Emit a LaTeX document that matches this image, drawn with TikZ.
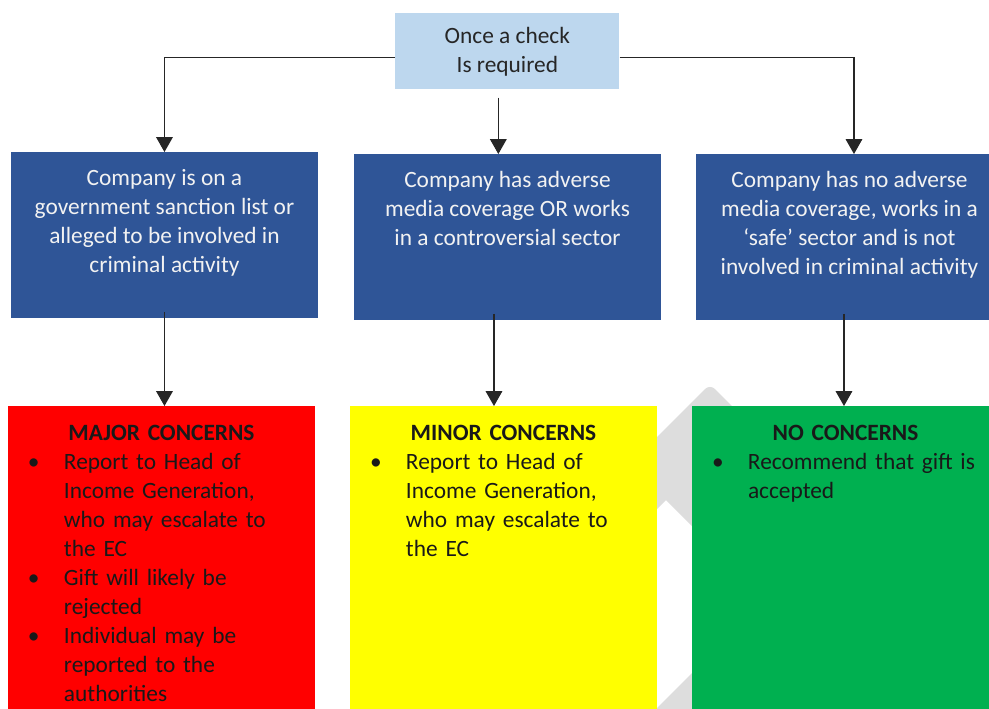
\documentclass[tikz,border=0pt]{standalone}
\usepackage{fontspec}
\setmainfont{Carlito}
\usepackage{xcolor}
\usetikzlibrary{arrows.meta}

\definecolor{checkblue}{HTML}{BDD7EE}
\definecolor{boxblue}{HTML}{2F5597}
\definecolor{majorred}{HTML}{FF0000}
\definecolor{minoryellow}{HTML}{FFFF00}
\definecolor{nogreen}{HTML}{00B050}
\definecolor{markgrey}{HTML}{DDDDDD}

% bullet with hanging indent
\newcommand{\bitem}{\par\hangindent=0.72cm\hangafter=1\noindent\makebox[0.72cm][l]{\textbullet}}

\begin{document}
\begin{tikzpicture}[x=0.02cm, y=-0.02cm,
    every node/.style={font=\fontsize{13.3}{16.5}\selectfont},
    box/.style={rectangle, inner sep=0pt, outer sep=0pt, anchor=north west, minimum width=6.14cm},
    blue/.style={box, fill=boxblue, minimum height=3.32cm},
    outcome/.style={box, fill=#1, minimum height=6.4cm},
    bluetext/.style={anchor=north, inner sep=0pt, align=center, text=black!5},
    outtext/.style={anchor=north, inner sep=0pt, text width=5.34cm, align=left, text=black!90},
    arr/.style={-{Triangle[width=9.5pt,length=8.5pt]}, line width=0.6pt, black!85}]
    \useasboundingbox (0,0) rectangle (989,708);
    \clip (0,0) rectangle (989,708);

    % Watermark shapes
    \fill[markgrey] (640,454) -- (705,389) to[out=45,in=135] (715,389) -- (780,454)
        -- (780,614) -- (666,500) -- (640,526) -- cycle;
    \fill[markgrey] (640,725) -- (700,665) -- (760,725) -- cycle;

    % Start
    \node[rectangle, fill=checkblue, minimum width=4.48cm, minimum height=1.52cm,
        anchor=north west, inner sep=0pt, align=center, text=black!85] (chk) at (395,13)
        {Once a check\\Is required};

    % Middle layer
    \node[blue] (b1) at (11,152) {};
    \node[blue] (b2) at (354,154) {};
    \node[blue] (b3) at (696,154) {};
    \node[bluetext] (b1txt) at ([yshift=-0.34cm]b1.north)
        {Company is on a\\government sanction list or\\alleged to be involved in\\criminal activity};
    \node[bluetext] (b2txt) at ([yshift=-0.34cm]b2.north)
        {Company has adverse\\media coverage OR works\\in a controversial sector};
    \node[bluetext] (b3txt) at ([yshift=-0.34cm]b3.north)
        {Company has no adverse\\media coverage, works in a\\‘safe’ sector and is not\\involved in criminal activity};

    % Bottom layer
    \node[outcome=majorred] (major) at (8,406) {};
    \node[outcome=minoryellow] (minor) at (350,406) {};
    \node[outcome=nogreen] (none) at (692,406) {};
    \node[outtext] (majortxt) at ([yshift=-0.38cm]major.north)
        {{\centering\bfseries MAJOR CONCERNS\par}
         \bitem Report to Head of\newline Income Generation,\newline who may escalate to\newline the EC
         \bitem Gift will likely be\newline rejected
         \bitem Individual may be\newline reported to the\newline authorities\par};
    \node[outtext] (minortxt) at ([yshift=-0.38cm]minor.north)
        {{\centering\bfseries MINOR CONCERNS\par}
         \bitem Report to Head of\newline Income Generation,\newline who may escalate to\newline the EC\par};
    \node[outtext] (nonetxt) at ([yshift=-0.38cm]none.north)
        {{\centering\bfseries NO CONCERNS\par}
         \bitem Recommend that gift is\newline accepted\par};

    % Connections
    \draw[arr] ([yshift=-0.12cm]chk.west) -| (b1.north);
    \draw[arr] ([yshift=-0.12cm]chk.east) -| ([xshift=0.09cm]b3.north);
    \draw[arr] ([xshift=-0.18cm,yshift=-0.16cm]chk.south) -- ([xshift=-0.18cm]chk.south |- b2.north);
    \foreach \i/\j/\dx in {1/major/0, 2/minor/-0.27, 3/none/-0.11} {
        \draw[arr] ([xshift=\dx cm,yshift=0.12cm]b\i.south) -- ([xshift=\dx cm]b\i.south |- \j.north);
    }
\end{tikzpicture}
\end{document}
